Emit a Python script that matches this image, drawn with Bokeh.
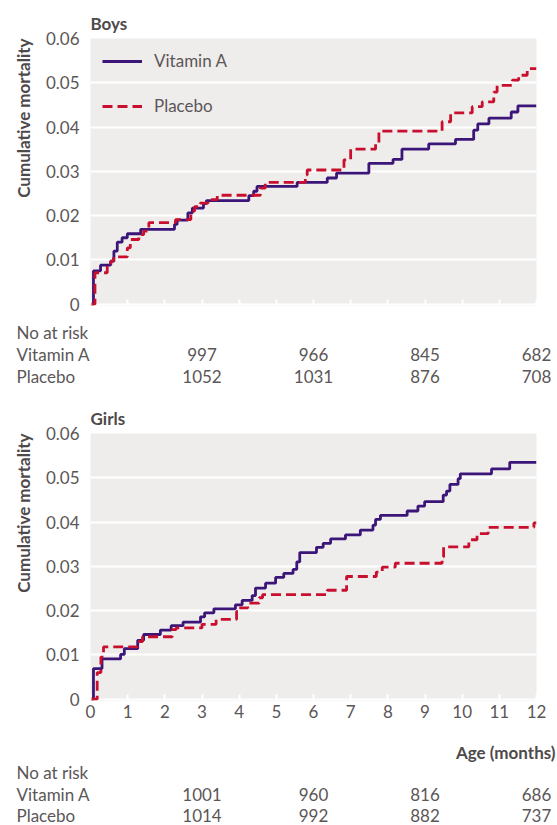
from bokeh.plotting import figure
from bokeh.models import Range1d, FixedTicker, Title
from bokeh.layouts import column
from bokeh.embed import file_html
from bokeh.resources import INLINE
from bokeh.core.properties import value

# ---------------- data ----------------
month_ticks = [0, 1, 2, 3, 4, 5, 6, 7, 8, 9, 10, 11, 12]
y_ticks = [0, 0.01, 0.02, 0.03, 0.04, 0.05, 0.06]
y_tick_labels = ["0", "0.01", "0.02", "0.03", "0.04", "0.05", "0.06"]
series_names = ["Vitamin A", "Placebo"]

boys_vita_t = [0, 0.08, 0.27, 0.54, 0.63, 0.72, 0.85, 0.99, 1.35, 2.26, 2.33, 2.62, 2.74,
               3.04, 3.12, 4.26, 4.39, 4.48, 5.56, 6.37, 6.62, 7.49, 8.14, 8.38, 9.10,
               9.82, 10.31, 10.42, 10.72, 11.32, 11.50, 12.0]
boys_vita_v = [0, 0.0075, 0.0088, 0.0097, 0.0120, 0.0140, 0.0150, 0.0159, 0.0169, 0.0180,
               0.0190, 0.0206, 0.0217, 0.0227, 0.0234, 0.0245, 0.0255, 0.0266, 0.0275,
               0.0285, 0.0296, 0.0318, 0.0327, 0.0350, 0.0362, 0.0372, 0.0393, 0.0407,
               0.0420, 0.0434, 0.0448, 0.0448]

boys_plac_t = [0, 0.12, 0.45, 0.55, 0.62, 0.99, 1.07, 1.30, 1.43, 1.57, 2.29, 2.70, 2.80,
               2.95, 3.16, 3.41, 4.57, 4.70, 5.78, 5.83, 6.82, 7.00, 7.67, 7.76, 9.46,
               9.69, 10.27, 10.54, 10.85, 10.94, 11.35, 11.52, 11.75, 12.0]
boys_plac_v = [0, 0.0071, 0.0088, 0.0097, 0.0107, 0.0127, 0.0146, 0.0157, 0.0165, 0.0184,
               0.0191, 0.0210, 0.0220, 0.0228, 0.0236, 0.0246, 0.0262, 0.0275, 0.0292,
               0.0303, 0.0326, 0.0350, 0.0363, 0.0391, 0.0412, 0.0432, 0.0446, 0.0457,
               0.0479, 0.0494, 0.0506, 0.0517, 0.0532, 0.0532]

girls_vita_t = [0, 0.08, 0.31, 0.81, 0.91, 1.27, 1.43, 1.88, 2.17, 2.49, 2.96, 3.07, 3.32,
                3.90, 4.08, 4.35, 4.44, 4.71, 4.98, 5.20, 5.45, 5.55, 5.63, 6.08, 6.26,
                6.46, 6.86, 7.26, 7.60, 7.67, 7.80, 8.52, 8.81, 8.99, 9.49, 9.58, 9.67,
                9.89, 9.95, 10.79, 11.28, 12.0]
girls_vita_v = [0, 0.0069, 0.0091, 0.0101, 0.0114, 0.0133, 0.0146, 0.0156, 0.0166, 0.0174,
                0.0186, 0.0195, 0.0204, 0.0213, 0.0223, 0.0234, 0.0251, 0.0262, 0.0275,
                0.0284, 0.0293, 0.0310, 0.0331, 0.0343, 0.0352, 0.0362, 0.0371, 0.0382,
                0.0393, 0.0406, 0.0415, 0.0425, 0.0436, 0.0446, 0.0461, 0.0470, 0.0485,
                0.0498, 0.0509, 0.0520, 0.0535, 0.0535]

girls_plac_t = [0, 0.18, 0.28, 0.35, 1.26, 1.40, 2.20, 2.30, 3.00, 3.38, 3.93, 4.00, 4.23,
                4.54, 4.63, 6.37, 6.89, 7.69, 7.85, 8.20, 9.46, 9.50, 10.18, 10.40, 10.70,
                11.93, 12.0]
girls_plac_v = [0, 0.0060, 0.0095, 0.0118, 0.0130, 0.0141, 0.0157, 0.0161, 0.0169, 0.0180,
                0.0198, 0.0206, 0.0217, 0.0229, 0.0236, 0.0246, 0.0277, 0.0287, 0.0298,
                0.0307, 0.0321, 0.0344, 0.0360, 0.0374, 0.0388, 0.0398, 0.0398]

risk_times = [3, 6, 9, 12]
boys_risk_vita = [997, 966, 845, 682]
boys_risk_plac = [1052, 1031, 876, 708]
girls_risk_vita = [1001, 960, 816, 686]
girls_risk_plac = [1014, 992, 882, 737]

# ---------------- style ----------------
FONT = "Lato"
TXT = "#5b5657"
BOLD_TXT = "#4e494a"
BG = "#efedec"
C_VITA = "#3b1578"
C_PLAC = "#c8102e"
W = 557
FL, FR = 90, 21
FH = 267
PXM = (W - FL - FR) / 12.0


def km_panel(title, vt, vv, pt, pv, top_b, bot_b, show_xlabels, legend):
    p = figure(width=W, height=top_b + FH + bot_b,
               x_range=Range1d(0, 12), y_range=Range1d(-0.0003, 0.06),
               output_backend="svg", toolbar_location=None, frame_align=False,
               min_border_left=FL, min_border_right=FR,
               min_border_top=top_b, min_border_bottom=bot_b)
    p.title = Title(text=title, align="left", text_font=FONT, text_font_size="17px",
                    text_font_style="bold", text_color=BOLD_TXT, standoff=10)
    p.add_layout(Title(text="Cumulative mortality", align="right", text_font=FONT,
                       text_font_size="17px", text_font_style="bold",
                       text_color=BOLD_TXT, standoff=18), "left")
    p.background_fill_color = BG
    p.border_fill_color = "white"
    p.outline_line_color = None
    p.xgrid.grid_line_color = None
    p.ygrid.grid_line_color = "white"
    p.ygrid.grid_line_width = 2
    p.ygrid.ticker = FixedTicker(ticks=y_ticks)

    p.yaxis.ticker = FixedTicker(ticks=y_ticks)
    p.yaxis.major_label_overrides = {t: s for t, s in zip(y_ticks, y_tick_labels)}
    p.yaxis.axis_line_color = None
    p.yaxis.major_tick_line_color = None
    p.yaxis.minor_tick_line_color = None
    p.yaxis.major_label_text_font = FONT
    p.yaxis.major_label_text_font_size = "17px"
    p.yaxis.major_label_text_color = TXT
    p.yaxis.major_label_standoff = 5

    p.xaxis.ticker = FixedTicker(ticks=month_ticks)
    p.xaxis.axis_line_color = None
    p.xaxis.major_tick_in = 6
    p.xaxis.major_tick_out = 0
    p.xaxis.major_tick_line_color = "white"
    p.xaxis.major_tick_line_width = 2
    p.xaxis.minor_tick_line_color = None
    p.xaxis.major_label_text_font = FONT
    p.xaxis.major_label_text_font_size = "17px"
    p.xaxis.major_label_text_color = TXT
    p.xaxis.major_label_standoff = 4
    if not show_xlabels:
        p.xaxis.major_label_overrides = {t: "" for t in month_ticks}

    kw_v = dict(line_color=C_VITA, line_width=2.8)
    kw_p = dict(line_color=C_PLAC, line_width=2.8, line_dash="10 5")
    if legend:
        p.step(vt, vv, mode="after", legend_label=series_names[0], **kw_v)
        p.step(pt, pv, mode="after", legend_label=series_names[1], **kw_p)
        lg = p.legend[0]
        lg.location = "top_left"
        lg.margin = 12
        lg.padding = 13
        lg.spacing = 24
        lg.glyph_width = 40
        lg.label_standoff = 12
        lg.background_fill_alpha = 0
        lg.border_line_color = None
        lg.label_text_font = FONT
        lg.label_text_font_size = "17px"
        lg.label_text_color = TXT
    else:
        p.step(vt, vv, mode="after", **kw_v)
        p.step(pt, pv, mode="after", **kw_p)
    return p


def risk_table(height, rows_y, vita, plac, extra=None):
    t = figure(width=W, height=height,
               x_range=Range1d(-FL / PXM, (W - FL) / PXM), y_range=Range1d(height, 0),
               output_backend="svg", toolbar_location=None, frame_align=False,
               x_axis_type=None, y_axis_type=None, min_border=0,
               min_border_left=0, min_border_right=0,
               min_border_top=0, min_border_bottom=0)
    t.outline_line_color = None
    t.grid.visible = False
    lab_x = (16 - FL) / PXM
    txt = dict(text_font=value(FONT), text_font_size="17px", text_color=TXT,
               text_baseline="middle")
    t.text(x=[lab_x] * 3, y=rows_y, text=["No at risk"] + series_names,
           text_align="left", **txt)
    t.text(x=risk_times, y=[rows_y[1]] * 4, text=[str(v) for v in vita],
           text_align="center", **txt)
    t.text(x=risk_times, y=[rows_y[2]] * 4, text=[str(v) for v in plac],
           text_align="center", **txt)
    if extra:
        t.text(x=[(W - 2 - FL) / PXM], y=[extra], text=["Age (months)"],
               text_align="right", text_baseline="middle", text_font=value(FONT),
               text_font_size="17px", text_font_style="bold", text_color=BOLD_TXT)
    return t


p1 = km_panel("Boys", boys_vita_t, boys_vita_v, boys_plac_t, boys_plac_v,
              38, 10, False, True)
t1 = risk_table(80, [17, 39, 61], boys_risk_vita, boys_risk_plac)
p2 = km_panel("Girls", girls_vita_t, girls_vita_v, girls_plac_t, girls_plac_v,
              38, 25, True, False)
t2 = risk_table(100, [47, 69, 90], girls_risk_vita, girls_risk_plac, extra=27)

layout = column(p1, t1, p2, t2, spacing=0)
open("out.html", "w").write(file_html(layout, INLINE))
